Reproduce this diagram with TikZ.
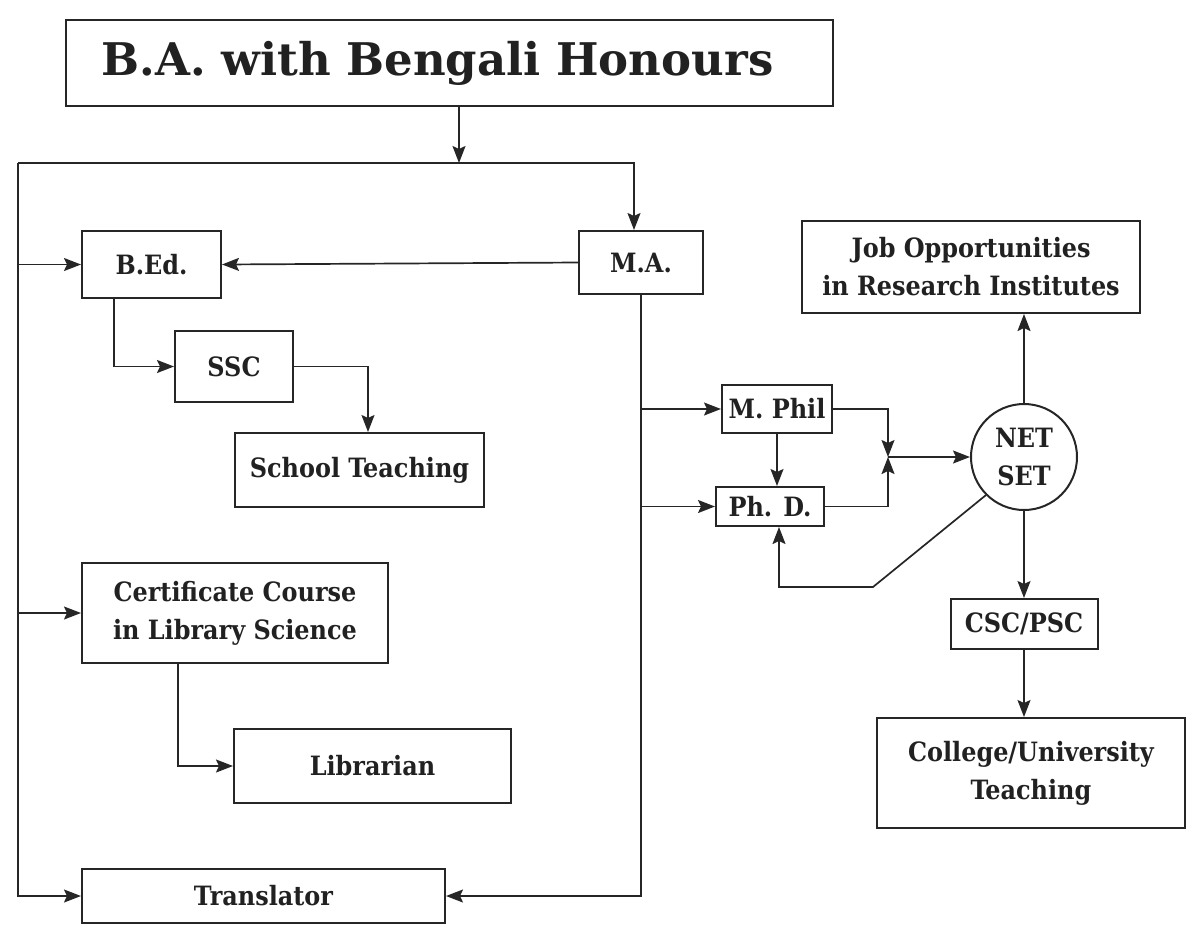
\documentclass[tikz,border=0pt]{standalone}
\usepackage{fontspec}
\setmainfont{DejaVu Serif}
\newfontfamily\boxfont{DejaVu Serif Condensed}[BoldFont={* Bold}]
\usetikzlibrary{arrows.meta,calc}
\tikzset{
    box/.style = {draw=black!85, line width=1pt, align=center, inner sep=0pt,
        font=\boxfont\bfseries\fontsize{13.3}{19}\selectfont, text=black!87},
    arr/.style = {-{Stealth[length=8.5pt,width=6.5pt,inset=1.5pt]}, line width=0.85pt, draw=black!85},
}
\begin{document}
\begin{tikzpicture}[x=0.5pt,y=-0.5pt]
            \useasboundingbox (0,0) rectangle (1200,944);
            \node[box, minimum width=383.5pt, minimum height=43pt,
                font=\bfseries\fontsize{22.5}{26}\selectfont] (title) at (449.5,63) {B.A. with Bengali Honours\hspace*{12pt}};
            \node[box, minimum width=69.5pt, minimum height=33.5pt] (bed) at (151.5,264.5) {B.Ed.};
            \node[box, minimum width=62pt, minimum height=31.5pt] (ma) at (641,262.5) {M.A.};
            \node[box, minimum width=59pt, minimum height=35.5pt] (ssc) at (234,366.5) {SSC};
            \node[box, minimum width=124.5pt, minimum height=37pt] (school) at (359.5,470) {School Teaching};
            \node[box, minimum width=153pt, minimum height=50pt] (cert) at (235,613) {Certificate Course\\in Library Science};
            \node[box, minimum width=138.5pt, minimum height=37pt] (lib) at (372.5,766) {Librarian};
            \node[box, minimum width=181.5pt, minimum height=27pt] (trans) at (263.5,896) {Translator};
            \node[box, minimum width=55pt, minimum height=24pt] (mphil) at (777,409) {M. Phil};
            \node[box, minimum width=54pt, minimum height=19.5pt] (phd) at (770,506.5) {Ph. D.};
            \node[box, circle, minimum size=53pt] (net) at (1024,457) {NET\\SET};
            \node[box, minimum width=169pt, minimum height=46pt] (job) at (971,267) {Job Opportunities\\in Research Institutes};
            \node[box, minimum width=73.5pt, minimum height=25pt] (csc) at (1024,624) {CSC/PSC};
            \node[box, minimum width=154pt, minimum height=55pt] (college) at (1031,773) {College/University\\Teaching};
            % distribution lines
            \coordinate (split) at (459,163);
            \coordinate (lt) at (18,163);
            \coordinate (rt) at (634,163);
            \coordinate (lb) at (18,896);
            \coordinate (join) at (888,457);
            \coordinate (bend) at (873,587);
            \draw[arr] (title.south -| split) -- (split);
            \draw[arr] (lt) -- (rt) -- (rt |- ma.north);
            \draw[arr] (lt) -- (lb) -- (trans.west);
            \draw[arr] (lt |- bed.west) -- (bed.west);
            \draw[arr] (lt |- cert.west) -- (cert.west);
            \draw[arr] (ma.west) -- (bed.east);
            \draw[arr] ($(bed.south)+(-37.5,0)$) |- (ssc.west);
            \draw[arr] (ssc.east) -| ($(school.north)+(8.5,0)$);
            \draw[arr] ($(cert.south)+(-57,0)$) |- (lib.west);
            \draw[arr] (ma.south) |- (trans.east);
            \draw[arr] (ma.south |- mphil.west) -- (mphil.west);
            \draw[arr] (ma.south |- phd.west) -- (phd.west);
            \draw[arr] (mphil.south) -- (mphil.south |- phd.north);
            \draw[arr] (mphil.east) -| (join);
            \draw[arr] (phd.east) -| (join);
            \draw[arr] (join) -- (net.west);
            \draw[arr] (net.225) -- (bend) -| ($(phd.south)+(9,0)$);
            \draw[arr] (net.north) -- (net.north |- job.south);
            \draw[arr] (net.south) -- (csc.north);
            \draw[arr] (csc.south) -- (csc.south |- college.north);
        \end{tikzpicture}
\end{document}
